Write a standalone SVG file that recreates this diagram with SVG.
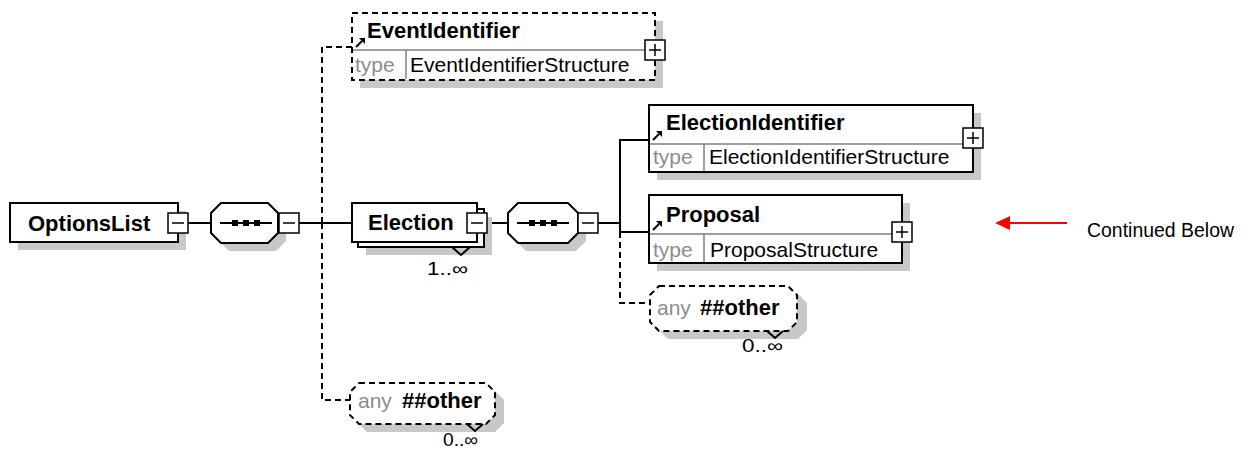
<svg xmlns="http://www.w3.org/2000/svg" width="1248" height="454" viewBox="0 0 1248 454">
<style>
.bg{fill:#fff}
.box{fill:#fff;stroke:#000;stroke-width:2}
.dbox{fill:#fff;stroke:#000;stroke-width:2;stroke-dasharray:6 4}
.sh{fill:#c8c8c8}
.ln{stroke:#000;stroke-width:2;fill:none}
.dl{stroke:#000;stroke-width:2;stroke-dasharray:6 4;fill:none}
.dv{stroke:#808080;stroke-width:1.5;fill:none}
.btn{fill:#fff;stroke:#000;stroke-width:1.5}
.sg{stroke:#000;stroke-width:1.5;fill:none}
.b{font-family:"Liberation Sans",Arial,sans-serif;font-weight:bold;font-size:22px;fill:#000}
.r{font-family:"Liberation Sans",Arial,sans-serif;font-size:21px;fill:#000}
.g{fill:#8c8c8c}
.m{font-family:"Liberation Sans",Arial,sans-serif;font-size:18px;fill:#000}
.red{stroke:#ff0000;stroke-width:2;fill:none}
</style>
<defs>
<symbol id="ref" viewBox="0 0 10 10" width="10" height="10" overflow="visible">
<path d="M1,9 L7,3" stroke="#000" stroke-width="2"/>
<path d="M4,0 L10,0 L10,6 Z" fill="#000"/>
</symbol>
<g id="minus">
<rect class="btn" x="0" y="0" width="20" height="20"/>
<path class="sg" d="M4,10 H16"/>
</g>
<g id="plus">
<rect class="btn" x="0" y="0" width="20" height="20"/>
<path class="sg" d="M4,10 H16 M10,4 V16"/>
</g>
<g id="seqicon">
<path class="ln" d="M9,20 H61"/>
<rect x="21" y="17" width="6" height="6" fill="#000"/>
<rect x="32" y="17" width="6" height="6" fill="#000"/>
<rect x="43" y="17" width="6" height="6" fill="#000"/>
</g>
</defs>
<rect class="bg" x="0" y="0" width="1248" height="454"/>

<g id="connectors">
<path class="ln" d="M188,223 H211"/>
<path class="ln" d="M299,223 H352"/>
<path class="dl" d="M322,223 V47 H352"/>
<path class="dl" d="M322,223 V400 H350"/>
<path class="ln" d="M487,223 H508"/>
<path class="ln" d="M598,223 H620"/>
<path class="ln" d="M620,223 V140 H649"/>
<path class="ln" d="M620,223 V232 H649"/>
<path class="dl" d="M620,232 V303 H650"/>
</g>

<g id="OptionsList">
<rect class="sh" x="18" y="211" width="168" height="39"/>
<rect class="box" x="10" y="203" width="168" height="39"/>
<text class="b" x="28" y="231">OptionsList</text>
<use href="#minus" x="168" y="213"/>
</g>

<g id="sequence1">
<path class="sh" d="M229,211 H276 L286,221 V241 L276,251 H229 L219,241 V221 Z"/>
<path class="box" d="M221,203 H268 L278,213 V233 L268,243 H221 L211,233 V213 Z"/>
<use href="#seqicon" x="211" y="203"/>
<use href="#minus" x="279" y="213"/>
</g>

<g id="EventIdentifier">
<rect class="sh" x="360" y="21" width="303" height="67"/>
<rect class="dbox" x="352" y="13" width="303" height="67"/>
<path class="dv" d="M353,50 H654 M406,50 V79"/>
<use href="#ref" x="355" y="38"/>
<text class="b" x="367" y="38">EventIdentifier</text>
<text class="r g" x="355" y="72">type</text>
<text class="r" x="410" y="72">EventIdentifierStructure</text>
<use href="#plus" x="645" y="40"/>
</g>

<g id="Election">
<rect class="sh" x="366" y="217" width="126" height="38"/>
<rect class="box" x="358" y="209" width="126" height="38"/>
<path class="ln" d="M452,247 L461,255 L470,247"/>
<rect class="box" x="352" y="203" width="125" height="39"/>
<text class="b" x="368" y="230">Election</text>
<use href="#minus" x="467" y="213"/>
<text class="m" x="427" y="275" textLength="41" lengthAdjust="spacingAndGlyphs">1..∞</text>
</g>

<g id="sequence2">
<path class="sh" d="M526,211 H576 L586,221 V241 L576,251 H526 L516,241 V221 Z"/>
<path class="box" d="M518,203 H568 L578,213 V233 L568,243 H518 L508,233 V213 Z"/>
<use href="#seqicon" x="508" y="203"/>
<use href="#minus" x="578" y="213"/>
</g>

<g id="ElectionIdentifier">
<rect class="sh" x="657" y="113" width="324" height="67"/>
<rect class="box" x="649" y="105" width="324" height="67"/>
<path class="dv" d="M650,144 H972 M704,144 V171"/>
<use href="#ref" x="652" y="131"/>
<text class="b" x="666" y="130">ElectionIdentifier</text>
<text class="r g" x="653" y="164">type</text>
<text class="r" x="709" y="164">ElectionIdentifierStructure</text>
<use href="#plus" x="963" y="128"/>
</g>

<g id="Proposal">
<rect class="sh" x="657" y="203" width="253" height="68"/>
<rect class="box" x="649" y="195" width="253" height="68"/>
<path class="dv" d="M650,234 H901 M704,234 V262"/>
<use href="#ref" x="652" y="221"/>
<text class="b" x="666" y="222">Proposal</text>
<text class="r g" x="653" y="257">type</text>
<text class="r" x="710" y="257">ProposalStructure</text>
<use href="#plus" x="892" y="222"/>
</g>

<g id="any1">
<path class="sh" d="M668,294 H798 L807,303 V330 L798,339 H668 L659,330 V303 Z"/>
<path class="dbox" d="M659,286 H788 L797,295 V322 L788,331 H659 L650,322 V295 Z"/>
<path class="ln" d="M767,331 L775,338 L783,331"/>
<text class="r g" x="657" y="315">any</text>
<text class="b" x="700" y="315">##other</text>
<text class="m" x="742" y="352" textLength="41" lengthAdjust="spacingAndGlyphs">0..∞</text>
</g>

<g id="any2">
<path class="sh" d="M367,391 H495 L504,400 V423 L495,432 H367 L358,423 V400 Z"/>
<path class="dbox" d="M359,383 H486 L495,392 V415 L486,424 H359 L350,415 V392 Z"/>
<path class="ln" d="M467,424 L475,431 L483,424"/>
<text class="r g" x="358" y="408">any</text>
<text class="b" x="402" y="408">##other</text>
<text class="m" x="443" y="446" textLength="35" lengthAdjust="spacingAndGlyphs">0..∞</text>
</g>

<g id="note">
<path class="red" d="M1067,223 H1006"/>
<path d="M995,223 L1010,216 L1010,230 Z" fill="#ff0000"/>
<text class="r" x="1087" y="237" font-size="20" textLength="147" lengthAdjust="spacingAndGlyphs" style="font-size:20px">Continued Below</text>
</g>
</svg>
